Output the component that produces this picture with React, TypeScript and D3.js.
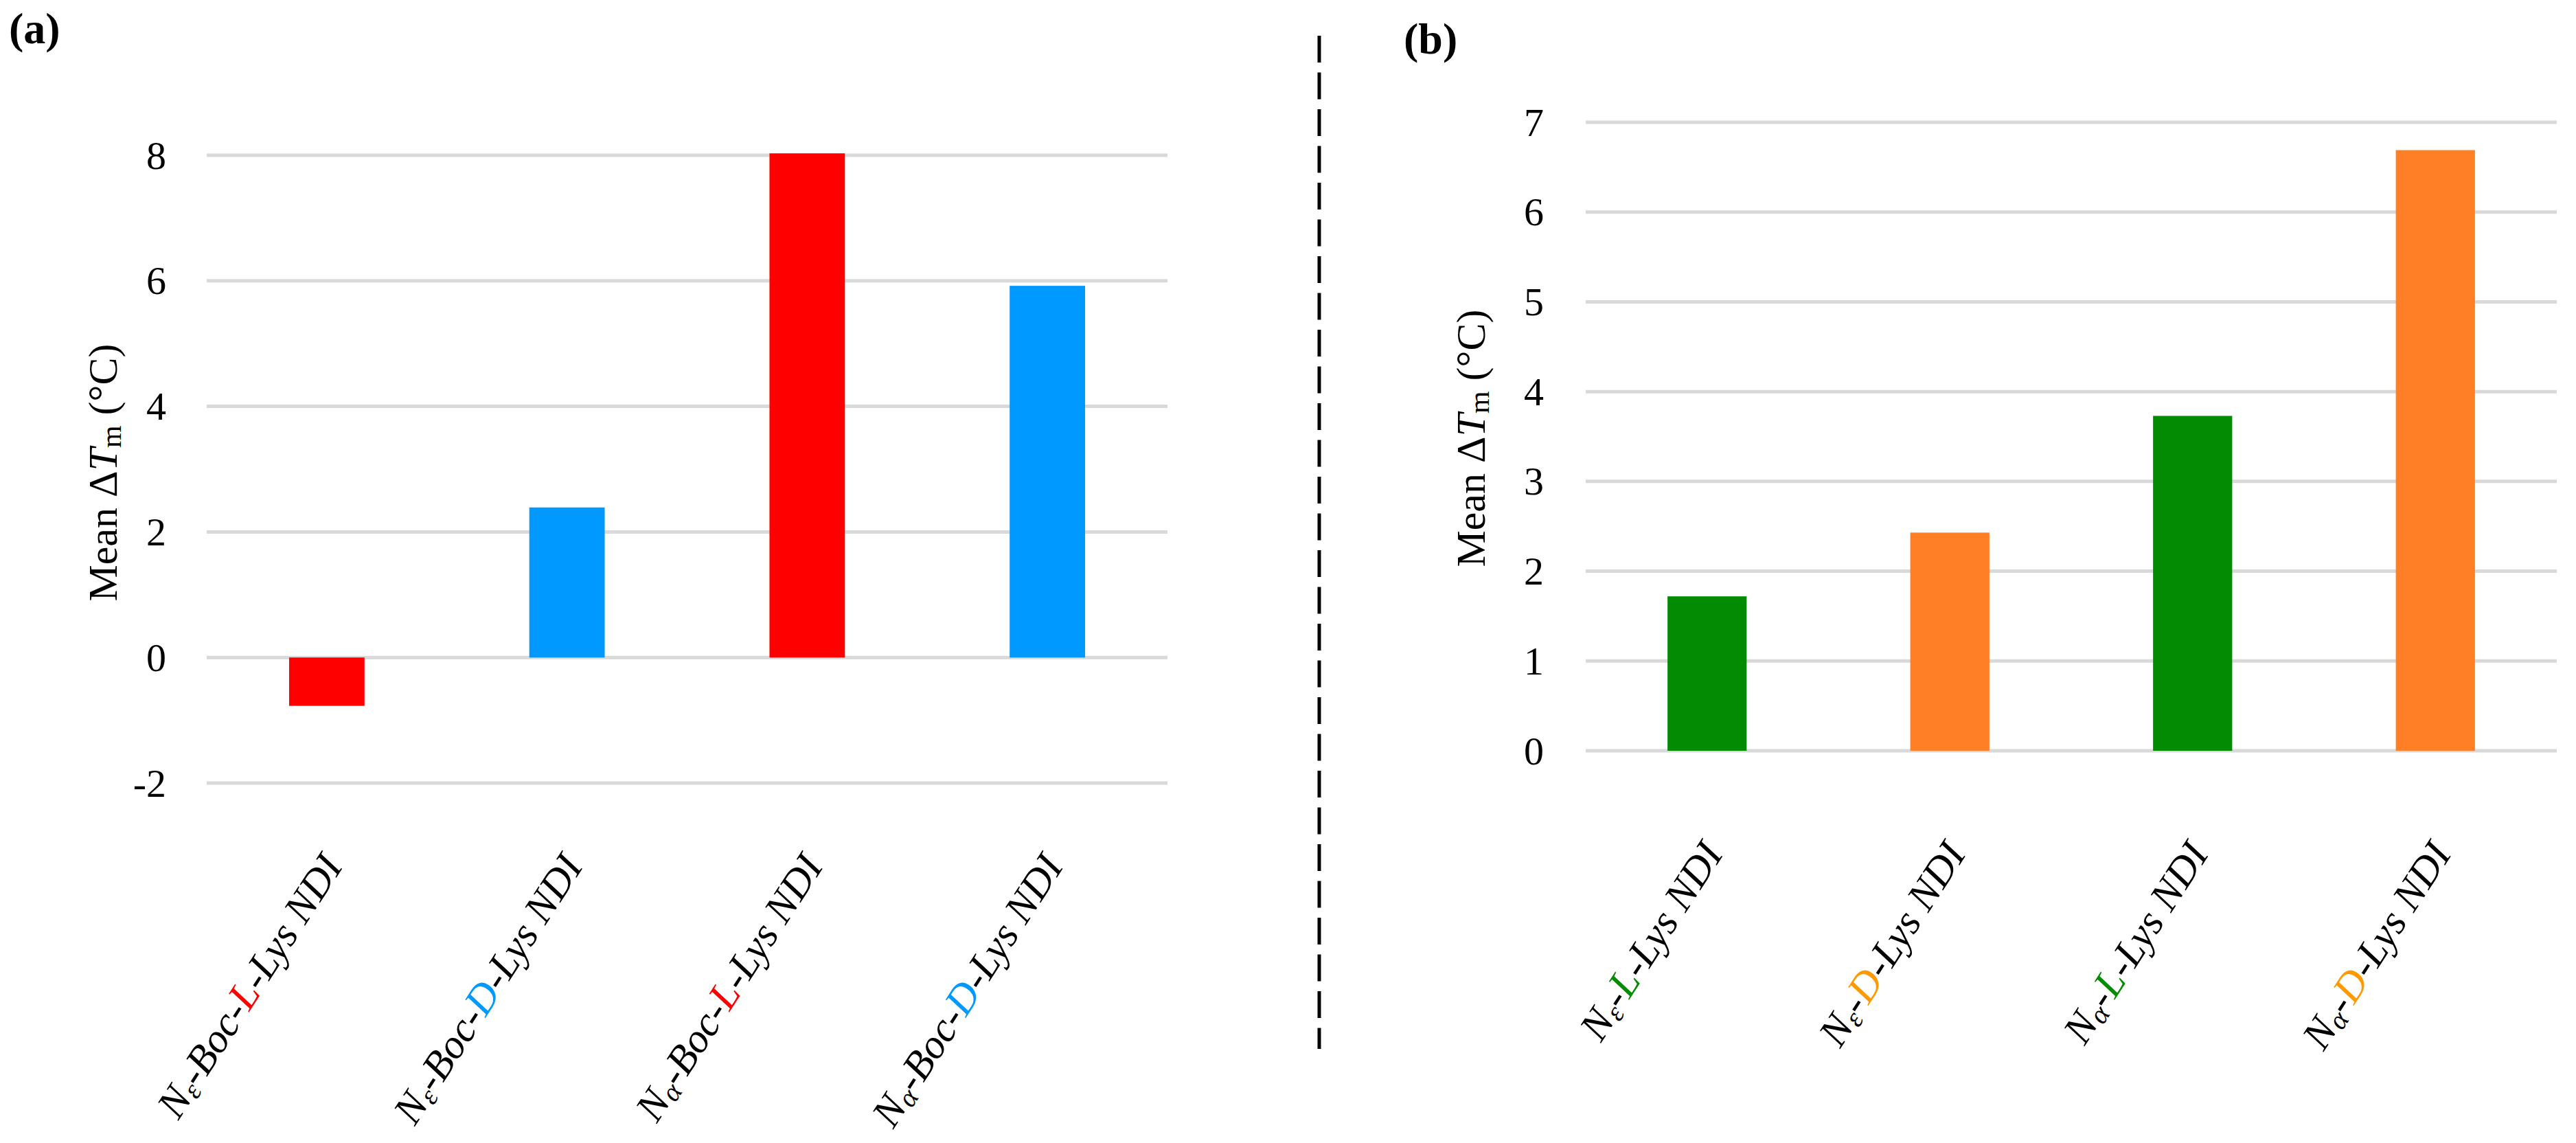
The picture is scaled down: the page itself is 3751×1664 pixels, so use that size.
import React from "react";
import * as d3 from "d3";

// ---------- data ----------
const subsA = ["ε", "ε", "α", "α"];
const isoA = ["L", "D", "L", "D"];
const valuesA = [-0.77, 2.39, 8.03, 5.92];
const barColorsA = ["#FF0000", "#0099FF", "#FF0000", "#0099FF"];
const isoColorsA = ["#FF0000", "#0099FF", "#FF0000", "#0099FF"];
const ticksA = [-2, 0, 2, 4, 6, 8];

const subsB = ["ε", "ε", "α", "α"];
const isoB = ["L", "D", "L", "D"];
const valuesB = [1.72, 2.43, 3.73, 6.69];
const barColorsB = ["#038C03", "#FF7F27", "#038C03", "#FF7F27"];
const isoColorsB = ["#038C03", "#FF9900", "#038C03", "#FF9900"];
const ticksB = [0, 1, 2, 3, 4, 5, 6, 7];

const FONT = "'Liberation Serif', 'Times New Roman', serif";
const GRID = "#D9D9D9";

type PanelProps = {
  subs: string[];
  iso: string[];
  values: number[];
  barColors: string[];
  isoColors: string[];
  ticks: number[];
  boc: boolean;
  x0: number;
  x1: number;
  yTop: number;
  yBot: number;
  pad: number;
  tickRight: number;
  titleX: number;
  titleY: number;
  labelY: number;
};

function Panel(p: PanelProps) {
  const cats = p.values.map((_, i) => String(i));
  const x = d3
    .scaleBand<string>()
    .domain(cats)
    .range([p.x0, p.x1])
    .paddingInner(p.pad)
    .paddingOuter(p.pad / 2);
  const y = d3
    .scaleLinear()
    .domain([p.ticks[0], p.ticks[p.ticks.length - 1]])
    .range([p.yBot, p.yTop]);

  return (
    <g fontFamily={FONT}>
      {p.ticks.map((t) => (
        <g key={"t" + t}>
          <line x1={p.x0} x2={p.x1} y1={y(t)} y2={y(t)} stroke={GRID} strokeWidth={5} />
          <text
            x={p.tickRight}
            y={y(t)}
            textAnchor="end"
            dominantBaseline="central"
            fontSize={58}
            fill="#000"
          >
            {t < 0 ? "-" + Math.abs(t) : String(t)}
          </text>
        </g>
      ))}
      {p.values.map((v, i) => {
        const xx = x(String(i)) as number;
        return (
          <rect
            key={"b" + i}
            x={xx}
            width={x.bandwidth()}
            y={y(Math.max(0, v))}
            height={Math.abs(y(v) - y(0))}
            fill={p.barColors[i]}
          />
        );
      })}
      {p.values.map((_, i) => {
        const cx = (x(String(i)) as number) + x.bandwidth() / 2;
        return (
          <text
            key={"l" + i}
            transform={`translate(${cx + 8},${p.labelY}) rotate(-57)`}
            textAnchor="end"
            dominantBaseline="central"
            fontSize={60}
            fontStyle="italic"
            fill="#000"
          >
            <tspan>N</tspan>
            <tspan fontSize={40} dy={12}>
              {p.subs[i]}
            </tspan>
            <tspan dy={-12}>{p.boc ? "-Boc-" : "-"}</tspan>
            <tspan fill={p.isoColors[i]}>{p.iso[i]}</tspan>
            <tspan>-Lys NDI</tspan>
          </text>
        );
      })}
      <text
        transform={`translate(${p.titleX},${p.titleY}) rotate(-90)`}
        textAnchor="middle"
        dominantBaseline="central"
        fontSize={60}
        fill="#000"
      >
        <tspan>Mean Δ</tspan>
        <tspan fontStyle="italic">T</tspan>
        <tspan fontSize={42} dy={12}>
          m
        </tspan>
        <tspan dy={-12}> (°C)</tspan>
      </text>
    </g>
  );
}

export default function App() {
  return (
    <svg
      width={3751}
      height={1664}
      style={{ position: "absolute", left: 0, top: 0, background: "#fff" }}
    >
      <rect x={0} y={0} width={3751} height={1664} fill="#fff" />
      <text x={13} y={63} fontFamily={FONT} fontWeight="bold" fontSize={64}>
        (a)
      </text>
      <text x={2044} y={78} fontFamily={FONT} fontWeight="bold" fontSize={64}>
        (b)
      </text>
      <line
        x1={1921}
        x2={1921}
        y1={52}
        y2={1527}
        stroke="#000"
        strokeWidth={5}
        strokeDasharray="39 14.5"
      />
      <Panel
        subs={subsA}
        iso={isoA}
        values={valuesA}
        barColors={barColorsA}
        isoColors={isoColorsA}
        ticks={ticksA}
        boc={true}
        x0={301}
        x1={1700}
        yTop={226}
        yBot={1140}
        pad={0.686}
        tickRight={242}
        titleX={150}
        titleY={688}
        labelY={1250}
      />
      <Panel
        subs={subsB}
        iso={isoB}
        values={valuesB}
        barColors={barColorsB}
        isoColors={isoColorsB}
        ticks={ticksB}
        boc={false}
        x0={2309}
        x1={3723}
        yTop={178}
        yBot={1093}
        pad={0.674}
        tickRight={2248}
        titleX={2142}
        titleY={638}
        labelY={1232}
      />
    </svg>
  );
}
